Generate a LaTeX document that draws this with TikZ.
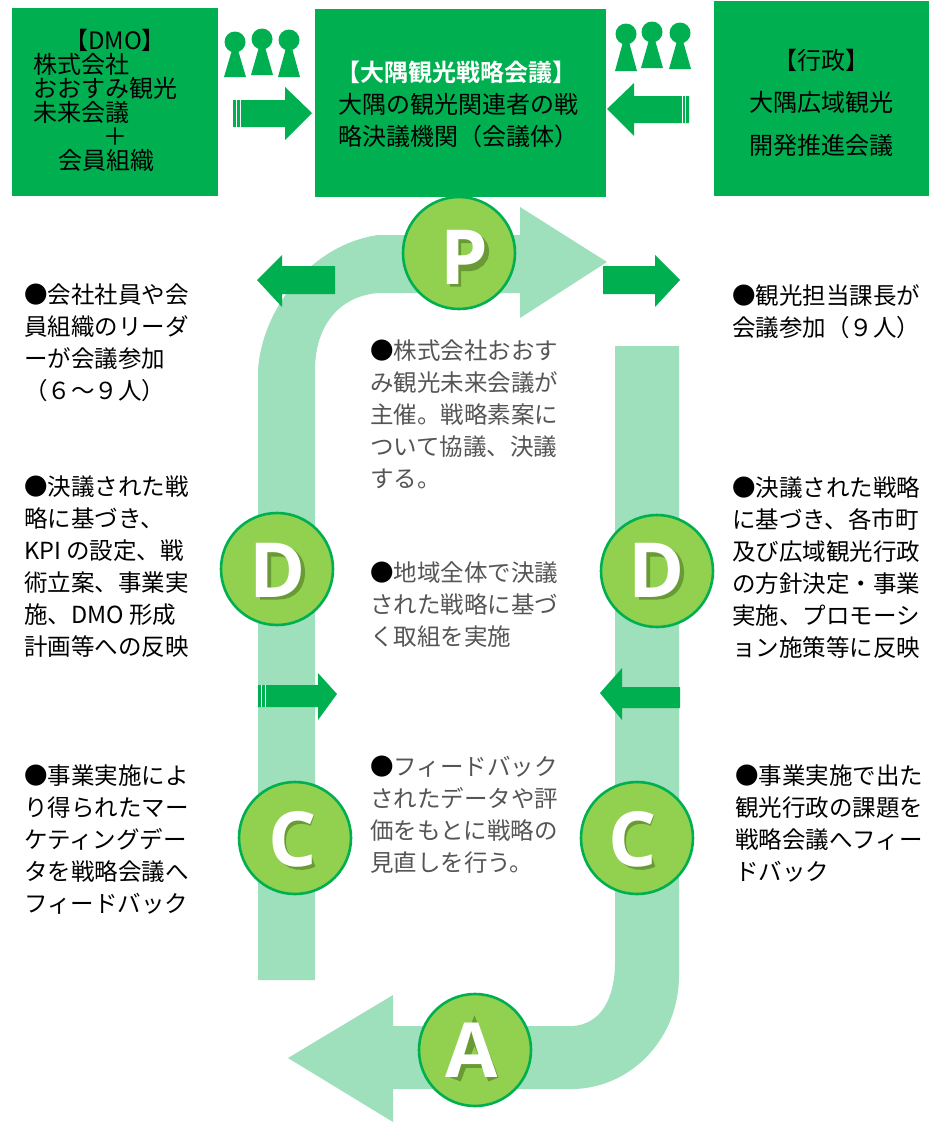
\documentclass[tikz,border=0pt]{standalone}
\usepackage{fontspec}
\setmainfont{Noto Sans CJK JP}
\newfontfamily\letterfont{Open Sans}[BoldFont={Open Sans Bold}]
\newfontfamily\jpbold{Noto Sans CJK JP Bold}
\definecolor{boxgreen}{HTML}{00B050}
\definecolor{ribbon}{HTML}{9DE0BB}
\definecolor{circfill}{HTML}{92D050}
\definecolor{letshadow}{HTML}{6A9A35}
\definecolor{blurtext}{HTML}{555555}
\newcommand{\blackdot}{\textcolor{black}{●}}
\newcommand{\personfig}[3]{%
  \fill[boxgreen] (#1,#2) circle (10.5);
  \fill[boxgreen] (#1-3,#2+8) -- (#1+3,#2+8) -- (#1+11,#3) -- (#1-11,#3) -- cycle;}
\tikzset{
  x=1pt,y=-1pt,
  headbox/.style={fill=boxgreen,draw=none,inner sep=0pt,anchor=north west},
  boxtext/.style={inner sep=0pt,font=\fontsize{24}{24}\selectfont,text=black},
  note/.style={inner sep=0pt,anchor=north west,align=left,font=\fontsize{23.5}{32}\selectfont,text=black},
  blurnote/.style={note,text=blurtext},
  pdca/.style={circle,fill=circfill,draw=boxgreen,line width=2.6pt,minimum size=112pt,inner sep=0pt},
  pdcaletter/.style={inner sep=0pt,font=\letterfont\bfseries\fontsize{76}{76}\selectfont,text=white},
  letshade/.style={draw=letshadow,line width=11pt,line cap=butt,line join=miter},
  ribbonshape/.style={fill=ribbon,draw=none},
  flowarrow/.style={fill=boxgreen,draw=none},
  tailstripe/.style={draw=white,line width=1pt}
}
\begin{document}
\begin{tikzpicture}
\useasboundingbox (0,0) rectangle (929,1122);
\clip (0,0) rectangle (929,1122);
\fill[white] (0,0) rectangle (929,1122);

% ribbons
\path[ribbonshape] (258,980) -- (258,370) .. controls (262,310) and (310,245) .. (378,235)
  -- (520,235) -- (520,207) -- (607,262) -- (520,318) -- (520,293) -- (378,293)
  .. controls (340,296) and (315,325) .. (315,370) -- (315,980) -- cycle;
\path[ribbonshape] (615,346) -- (615,962) .. controls (615,1000) and (600,1024) .. (573,1026)
  -- (393,1026) -- (393,995) -- (288,1058) -- (393,1122) -- (393,1089) -- (573,1089)
  .. controls (630,1088) and (679,1040) .. (679,975) -- (679,346) -- cycle;

% header boxes
\node[headbox,minimum width=206pt,minimum height=188pt] (dmo) at (12,8) {};
\node[headbox,minimum width=291pt,minimum height=188pt] (council) at (315,9) {};
\node[headbox,minimum width=215pt,minimum height=195pt] (gov) at (714,1) {};

% header texts
\node[boxtext] (t1) at (115,40) {【DMO】};
\node[boxtext,anchor=west] (t2) at (33,64) {株式会社};
\node[boxtext,anchor=west] (t3) at (33,88) {おおすみ観光};
\node[boxtext,anchor=west] (t4) at (33,112) {未来会議};
\node[boxtext] (t5) at (115,137) {＋};
\node[boxtext] (t6) at (106,160) {会員組織};
\node[boxtext,text=white,font=\jpbold\fontsize{24}{24}\selectfont] (t7) at (456,72) {【大隅観光戦略会議】};
\node[boxtext,anchor=west] (t8) at (338,104) {大隅の観光関連者の戦};
\node[boxtext,anchor=west] (t9) at (338,136) {略決議機関（会議体）};
\node[boxtext] (t10) at (821,60) {【行政】};
\node[boxtext] (t11) at (821,102) {大隅広域観光};
\node[boxtext] (t12) at (821,145) {開発推進会議};

% people
\personfig{235}{42}{77}
\personfig{262}{39}{75}
\personfig{289}{40}{77}
\personfig{626}{34}{71}
\personfig{652}{32}{68}
\personfig{680}{33}{69}

% block arrows
\path[flowarrow] (233,100) -- (285,100) -- (285,87) -- (312,113) -- (285,140) -- (285,127) -- (233,127) -- cycle;
\draw[tailstripe] (236.5,100) -- (236.5,127) (240.5,100) -- (240.5,127);
\path[flowarrow] (689,96) -- (634,96) -- (634,83) -- (607,109) -- (634,136) -- (634,123) -- (689,123) -- cycle;
\draw[tailstripe] (685.5,96) -- (685.5,123) (682,96) -- (682,123);
\path[flowarrow] (335,266) -- (282,266) -- (282,255) -- (257,280) -- (282,307) -- (282,294) -- (335,294) -- cycle;
\path[flowarrow] (603,266) -- (655,266) -- (655,255) -- (680,280) -- (655,307) -- (655,294) -- (603,294) -- cycle;
\path[flowarrow] (258,685) -- (318,685) -- (318,673) -- (337,694) -- (318,720) -- (318,707) -- (258,707) -- cycle;
\draw[tailstripe] (261,685) -- (261,707) (265,685) -- (265,707);
\path[flowarrow] (680,687) -- (622,687) -- (622,668) -- (600,693) -- (622,720) -- (622,708) -- (680,708) -- cycle;

% PDCA circles
\node[pdca] (P) at (459,253) {};
\node[pdca] (D1) at (277,569) {};
\node[pdca] (D2) at (657,571) {};
\node[pdca] (C1) at (295,838) {};
\node[pdca] (C2) at (637,838) {};
\node[pdca] (A) at (475,1050) {};

% letter shadows (offset strokes behind the white letters)
\begin{scope}[shift={(466.5,259.5)}]
  \draw[letshade] (-11,27) -- (-11,-22) -- (3,-22) arc[start angle=-90,end angle=90,radius=14] -- (-11,6);
\end{scope}
\foreach \cx/\cy in {280.5/572.5,659.5/572.5}{
  \begin{scope}[shift={(\cx,\cy)}]
    \draw[letshade] (-15,-21.5) -- (-2,-21.5) .. controls (12,-21.5) and (19,-12) .. (19,0)
      .. controls (19,12) and (12,21.5) .. (-2,21.5) -- (-15,21.5) -- cycle;
  \end{scope}
}
\foreach \cx/\cy in {295.5/841.5,635.5/841.5}{
  \begin{scope}[shift={(\cx,\cy)}]
    \draw[letshade] (17,-21) .. controls (5,-26) and (-15,-24) .. (-15,0)
      .. controls (-15,24) and (5,26) .. (18,20);
  \end{scope}
}
\begin{scope}[shift={(474.5,1052.5)}]
  \draw[letshade] (-19,27) -- (0,-22) -- (19,27);
  \draw[letshade,line width=9pt] (-13,11) -- (13,11);
\end{scope}

% PDCA letters
\node[pdcaletter] (Pl) at (464,257) {P};
\node[pdcaletter] (D1l) at (278,570) {D};
\node[pdcaletter] (D2l) at (657,570) {D};
\node[pdcaletter] (C1l) at (293,839) {C};
\node[pdcaletter] (C2l) at (633,839) {C};
\node[pdcaletter] (Al) at (472,1050) {A};

% left notes
\node[note] (n1) at (24,284) {●会社社員や会\\員組織のリーダ\\ーが会議参加\\（６～９人）};
\node[note] (n2) at (24,476) {●決議された戦\\略に基づき、\\KPI の設定、戦\\術立案、事業実\\施、DMO 形成\\計画等への反映};
\node[note] (n3) at (24,765) {●事業実施によ\\り得られたマー\\ケティングデー\\タを戦略会議へ\\フィードバック};

% right notes
\node[note] (n4) at (732,284) {●観光担当課長が\\会議参加（９人）};
\node[note] (n5) at (732,476) {●決議された戦略\\に基づき、各市町\\及び広域観光行政\\の方針決定・事業\\実施、プロモーシ\\ョン施策等に反映};
\node[note] (n6) at (735,765) {●事業実施で出た\\観光行政の課題を\\戦略会議へフィー\\ドバック};

% centre notes
\node[blurnote] (n7) at (370,340) {\blackdot 株式会社おおす\\み観光未来会議が\\主催。戦略素案に\\ついて協議、決議\\する。};
\node[blurnote] (n8) at (370,562) {\blackdot 地域全体で決議\\された戦略に基づ\\く取組を実施};
\node[blurnote] (n9) at (370,756) {\blackdot フィードバック\\されたデータや評\\価をもとに戦略の\\見直しを行う。};
\end{tikzpicture}
\end{document}
